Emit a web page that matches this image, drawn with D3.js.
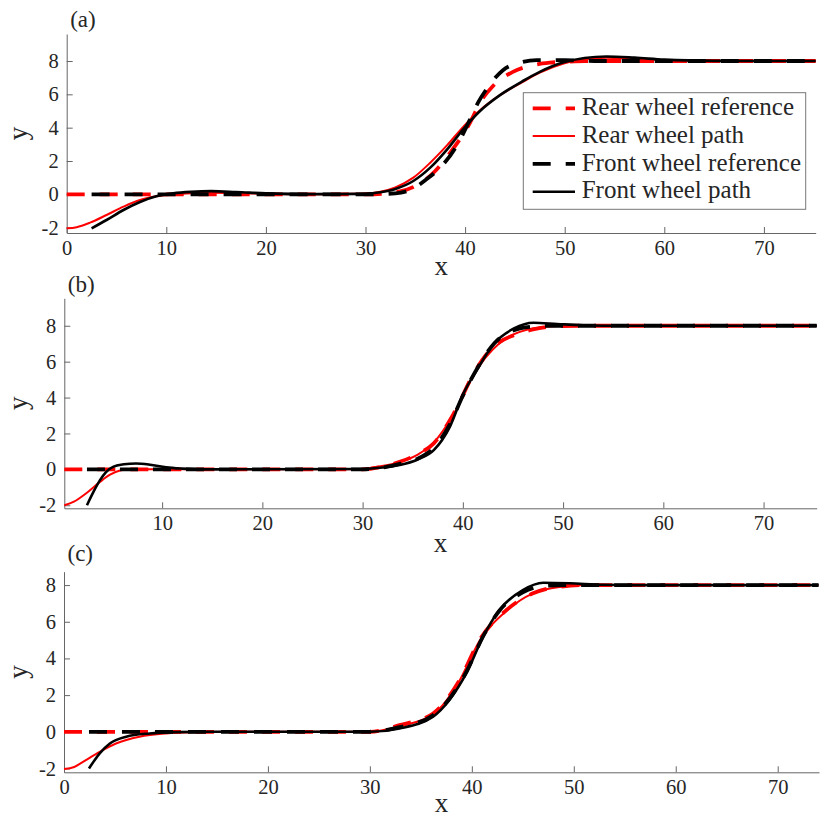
<!DOCTYPE html>
<html><head><meta charset="utf-8">
<script src="https://cdnjs.cloudflare.com/ajax/libs/d3/7.8.5/d3.min.js"></script>
<style>
  body { margin: 0; background: #fff; }
  text { font-family: "Liberation Serif", "Times New Roman", serif; fill: #262626; }
</style>
</head>
<body>
<svg id="fig" width="830" height="822"></svg>
<script>
// ---- data: [x, y] pairs ----
// (a)
const aRearRef = [[0,0],[30,0],[33,0.12],[35,0.5],[37,1.4],[38.5,2.5],[40.5,4.3],[41.5,5.5],[42.8,6.5],[44.8,7.35],[46.8,7.75],[48.5,7.9],[50.2,7.96],[52,8],[75.2,8]];
const aRearPath = [[0,-2.04],[1,-1.97],[2.34,-1.7],[4,-1.24],[5.7,-0.74],[7.36,-0.34],[9,-0.12],[10.7,-0.01],[12.5,0.06],[14.5,0.1],[17,0.08],[20,0.03],[25,0],[30,0.05],[31.5,0.16],[33,0.42],[34.8,1.0],[36.5,1.9],[38.2,2.95],[39.8,4.05],[41.5,5.05],[43.5,5.95],[45.8,6.75],[47.5,7.3],[49.9,7.85],[52,8.1],[54.2,8.2],[57,8.13],[60,8.05],[65,8.0],[75.2,8]];
const aFrontRef = [[2.5,0],[30,0],[33,0.06],[34.8,0.35],[36,0.85],[37.5,1.6],[39.2,2.96],[40.5,4.5],[41.3,5.5],[42.2,6.35],[43.8,7.45],[45.5,7.9],[47.2,8.05],[50,8.05],[53,8.0],[75.2,8]];
const aFrontPath = [[2.5,-2.04],[4,-1.54],[5.7,-0.94],[7.36,-0.46],[9,-0.12],[10.7,0.06],[12.5,0.15],[14.5,0.19],[17,0.14],[20,0.06],[25,0.01],[30,0.03],[31.5,0.12],[33,0.32],[34.8,0.8],[36.5,1.6],[38.2,2.7],[39.8,3.9],[41.5,5.0],[43.5,5.95],[45.8,6.8],[47.5,7.35],[49.9,7.92],[52,8.18],[54.2,8.27],[57,8.2],[60,8.08],[65,8.01],[75.2,8]];
// (b)
const bRearRef = [[0.24,0],[30,0],[32,0.15],[33.7,0.42],[35.5,0.85],[37.1,1.45],[39.1,3.12],[41.1,5.35],[42.5,6.5],[43.7,7.1],[45.5,7.55],[47,7.8],[49.7,7.98],[52,8],[75.3,8]];
const bRearPath = [[0.24,-2.0],[1.2,-1.8],[2.5,-1.3],[3.8,-0.7],[4.8,-0.3],[5.8,-0.06],[6.8,0],[30,0],[31,0.1],[33.7,0.4],[35.5,0.82],[37.1,1.5],[39.1,3.1],[41.1,5.3],[43.7,7.05],[47,7.85],[50,8.0],[75.3,8]];
const bFrontRef = [[2.5,0],[30,0],[33.7,0.3],[35.5,0.6],[37.1,1.2],[38.7,2.5],[40,4.1],[41.4,5.6],[43.1,7.0],[45.1,7.75],[47,7.95],[49,8.0],[75.3,8]];
const bFrontPath = [[2.5,-2.0],[3.2,-1.2],[3.8,-0.6],[4.4,-0.15],[5.1,0.14],[6.2,0.28],[7.4,0.33],[8.8,0.26],[10.4,0.11],[12,0.04],[14,0],[30,0.02],[32,0.1],[33.7,0.24],[35.5,0.55],[37.1,1.07],[38.7,2.37],[40.06,4.23],[41.4,5.53],[43.1,7.0],[45.1,7.85],[47.05,8.17],[49.4,8.1],[52,8.03],[56,8.0],[75.3,8]];
// (c)
const cRearRef = [[0,0],[30,0],[32.9,0.36],[36.2,1.0],[38.8,2.82],[40.75,5.0],[43.4,6.64],[46,7.55],[48.6,7.91],[51.2,8.0],[74,8]];
const cRearPath = [[0,-2.03],[1,-1.92],[1.86,-1.64],[3.5,-1.09],[5.1,-0.64],[7.4,-0.27],[10,-0.09],[13,-0.02],[16,0],[30,0],[32.9,0.3],[36.2,0.95],[38.8,2.8],[40.75,4.95],[43.4,6.6],[46,7.55],[48.6,7.9],[51.2,8.0],[74,8]];
const cFrontRef = [[2.45,0],[30,0],[32.9,0.25],[36.2,0.9],[37.8,1.8],[39.5,3.3],[41.1,5.2],[42.7,6.6],[45,7.6],[47,7.95],[49,8],[74,8]];
const cFrontPath = [[2.45,-2.0],[3.0,-1.55],[3.5,-1.18],[4.5,-0.64],[6.1,-0.27],[8.4,-0.09],[11,-0.02],[14,0],[30,0],[32.9,0.18],[36.2,0.82],[37.8,1.73],[39.45,3.18],[41.1,5.18],[42.7,6.64],[45,7.73],[47,8.13],[49.6,8.1],[52.8,8.02],[56,8],[74,8]];

const yTicks = [-2, 0, 2, 4, 6, 8];
const xTicksFull = [0, 10, 20, 30, 40, 50, 60, 70];
const xTicksNoZero = [10, 20, 30, 40, 50, 60, 70];
const legendLabels = ["Rear wheel reference", "Rear wheel path", "Front wheel reference", "Front wheel path"];

// line styles in plotting order (legend order)
const styles = [
  { color: "#ff0000", width: 3.8, dash: "18,15" },
  { color: "#ff0000", width: 2.0, dash: null },
  { color: "#000000", width: 3.8, dash: "18,15" },
  { color: "#000000", width: 2.6, dash: null }
];

const panels = [
  { tag: "(a)", tagY: 26.5, left: 66.7, right: 815.7, top: 34, bottom: 233, xDom: [0, 75.2], yDom: [-2.32, 9.62],
    xTicks: xTicksFull, xLabelY: 275, series: [aRearRef, aRearPath, aFrontRef, aFrontPath], legend: true },
  { tag: "(b)", tagY: 292.3, left: 64.3, right: 816.7, top: 298.3, bottom: 508.3, xDom: [0.24, 75.3], yDom: [-2.17, 9.53],
    xTicks: xTicksNoZero, xLabelY: 551.5, series: [bRearRef, bRearPath, bFrontRef, bFrontPath], legend: false },
  { tag: "(c)", tagY: 560.7, left: 64, right: 819, top: 571.7, bottom: 772.3, xDom: [0, 74.05], yDom: [-2.21, 8.73],
    xTicks: xTicksFull, xLabelY: 811.5, series: [cRearRef, cRearPath, cFrontRef, cFrontPath], legend: false }
];

const svg = d3.select("#fig");

panels.forEach(p => {
  const x = d3.scaleLinear().domain(p.xDom).range([p.left, p.right]);
  const y = d3.scaleLinear().domain(p.yDom).range([p.bottom, p.top]);
  const g = svg.append("g");

  // axes, MATLAB style: ticks point inwards, no box
  const xAxis = g.append("g")
    .attr("transform", `translate(0,${p.bottom})`)
    .call(d3.axisBottom(x).tickValues(p.xTicks).tickFormat(d => String(d))
      .tickSizeInner(-6).tickSizeOuter(0).tickPadding(7));
  const yAxis = g.append("g")
    .attr("transform", `translate(${p.left},0)`)
    .call(d3.axisLeft(y).tickValues(yTicks).tickFormat(d => String(d))
      .tickSizeInner(-6).tickSizeOuter(0).tickPadding(8));
  [xAxis, yAxis].forEach(ax => {
    ax.attr("font-family", null).attr("font-size", null);
    ax.selectAll("path, line").attr("stroke", "#666").attr("stroke-width", 1);
    ax.selectAll("text").attr("fill", "#262626").style("font-size", "20.5px");
  });

  // curves
  const line = d3.line().x(d => x(d[0])).y(d => y(d[1])).curve(d3.curveMonotoneX);
  p.series.forEach((s, i) => {
    const st = styles[i];
    g.append("path")
      .datum(s)
      .attr("d", line)
      .attr("fill", "none")
      .attr("stroke", st.color)
      .attr("stroke-width", st.width)
      .attr("stroke-dasharray", st.dash);
  });

  // labels
  g.append("text").attr("x", p.left + 3.5).attr("y", p.tagY)
    .style("font-size", "23px").text(p.tag);
  g.append("text").attr("x", (p.left + p.right) / 2).attr("y", p.xLabelY)
    .attr("text-anchor", "middle").style("font-size", "27px").text("x");
  g.append("text")
    .attr("transform", `translate(27,${(p.top + p.bottom) / 2}) rotate(-90)`)
    .attr("text-anchor", "middle").style("font-size", "27px").text("y");

  if (p.legend) {
    const lg = g.append("g");
    lg.append("rect").attr("x", 523.3).attr("y", 92.7).attr("width", 282.4).attr("height", 116.6)
      .attr("fill", "#fff").attr("stroke", "#777").attr("stroke-width", 1);
    legendLabels.forEach((lab, i) => {
      const by = 115 + i * 27.8;
      const st = styles[i];
      lg.append("line").attr("x1", 532.7).attr("x2", 575).attr("y1", by - 6.7).attr("y2", by - 6.7)
        .attr("stroke", st.color).attr("stroke-width", st.width).attr("stroke-dasharray", st.dash);
      lg.append("text").attr("x", 581.7).attr("y", by).style("font-size", "25px").text(lab);
    });
  }
});
</script>
</body></html>
